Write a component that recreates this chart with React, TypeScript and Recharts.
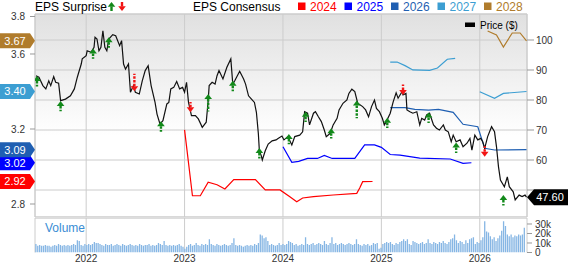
import React from 'react';
import { ComposedChart, BarChart, Bar, Line, Scatter, XAxis, YAxis, CartesianGrid, ReferenceArea, ReferenceDot } from 'recharts';

const FONT = 'Arial, "Liberation Sans", Helvetica, sans-serif';

// ---------- axes ----------
const xDomain: [number, number] = [2021.48, 2026.48];
const epsDomain: [number, number] = [2.7307, 3.8133];
const priceDomain: [number, number] = [41, 108.67];
const volumeDomain: [number, number] = [0, 36.3];
const yearTicks = [2022, 2023, 2024, 2025, 2026];
const epsTicks = [2.8, 3.2, 3.6, 3.8];
const priceTicks = [50, 60, 70, 80, 90, 100];
const volumeTicks = [0, 10, 20, 30];

// ---------- price ----------
const priceDates = [
  2021.49, 2021.52, 2021.56, 2021.59, 2021.62, 2021.64, 2021.67, 2021.69, 2021.72, 2021.74,
  2021.79, 2021.84, 2021.88, 2021.91, 2021.95, 2021.96, 2022.00, 2022.01, 2022.05, 2022.08,
  2022.09, 2022.11, 2022.13, 2022.15, 2022.17, 2022.19, 2022.21, 2022.23, 2022.27, 2022.30,
  2022.34, 2022.36, 2022.38, 2022.40, 2022.43, 2022.45, 2022.48, 2022.50, 2022.54, 2022.57,
  2022.60, 2022.63, 2022.66, 2022.70, 2022.72, 2022.75, 2022.78, 2022.82, 2022.84, 2022.86,
  2022.89, 2022.92, 2022.95, 2022.98, 2023.00, 2023.02, 2023.04, 2023.07, 2023.11, 2023.14,
  2023.18, 2023.22, 2023.24, 2023.25, 2023.28, 2023.31, 2023.33, 2023.35, 2023.39, 2023.43,
  2023.47, 2023.49, 2023.51, 2023.56, 2023.60, 2023.62, 2023.65, 2023.68, 2023.71, 2023.73,
  2023.75, 2023.76, 2023.78, 2023.79, 2023.82, 2023.85, 2023.89, 2023.93, 2023.95, 2023.99,
  2024.01, 2024.05, 2024.09, 2024.12, 2024.17, 2024.20, 2024.22, 2024.25, 2024.27, 2024.31,
  2024.33, 2024.36, 2024.39, 2024.42, 2024.44, 2024.48, 2024.51, 2024.55, 2024.57, 2024.61,
  2024.65, 2024.67, 2024.70, 2024.73, 2024.76, 2024.81, 2024.84, 2024.87, 2024.90, 2024.93,
  2024.95, 2024.98, 2025.01, 2025.03, 2025.05, 2025.09, 2025.12, 2025.15, 2025.17, 2025.21,
  2025.22, 2025.25, 2025.26, 2025.29, 2025.32, 2025.36, 2025.39, 2025.41, 2025.44, 2025.46,
  2025.49, 2025.53, 2025.56, 2025.59, 2025.63, 2025.65, 2025.68, 2025.71, 2025.73, 2025.76,
  2025.80, 2025.83, 2025.87, 2025.90, 2025.92, 2025.95, 2025.98, 2026.01, 2026.03, 2026.05,
  2026.08, 2026.12, 2026.15, 2026.17, 2026.19, 2026.21, 2026.25, 2026.28, 2026.30, 2026.34,
  2026.36, 2026.40, 2026.43, 2026.46, 2026.475,
];
const priceValues = [
  88.1, 87.6, 84.8, 83.7, 86.4, 84.8, 87.8, 85.9, 85.6, 79.8,
  80.3, 81.4, 83.7, 87.6, 92.0, 93.7, 94.8, 96.4, 95.9, 97.6,
  100.9, 100.3, 96.4, 97.6, 103.1, 97.6, 96.4, 100.3, 101.8, 101.4,
  98.1, 99.8, 92.0, 90.3, 92.0, 82.6, 84.8, 82.6, 82.0, 86.4,
  89.8, 91.4, 84.8, 79.2, 75.3, 72.0, 73.1, 78.7, 79.2, 83.7,
  84.2, 86.2, 83.7, 84.2, 82.6, 85.9, 79.2, 74.8, 74.8, 73.7,
  70.9, 72.6, 79.8, 84.8, 85.9, 85.3, 88.1, 89.8, 87.0, 90.9,
  93.7, 85.3, 86.4, 89.6, 87.0, 85.3, 81.4, 80.3, 79.2, 75.9,
  68.7, 63.1, 61.4, 60.0, 63.1, 65.3, 66.4, 66.7, 67.2, 68.0,
  66.7, 67.8, 65.0, 67.8, 68.3, 69.4, 76.1, 75.6, 71.7, 75.6,
  76.1, 74.4, 72.8, 70.0, 67.8, 68.9, 71.7, 73.9, 76.7, 78.9,
  80.0, 82.2, 83.6, 82.8, 78.9, 77.8, 76.7, 74.4, 77.8, 80.0,
  77.2, 76.1, 73.9, 71.7, 72.8, 75.6, 79.4, 82.4, 80.6, 82.8,
  81.7, 82.2, 76.7, 76.1, 75.6, 76.1, 71.7, 73.9, 73.3, 75.0,
  75.6, 71.7, 70.6, 70.0, 71.7, 70.0, 69.4, 66.1, 68.3, 66.1,
  66.7, 64.4, 65.6, 67.2, 63.3, 68.3, 66.7, 67.2, 66.1, 63.9,
  67.8, 71.1, 69.4, 64.4, 57.8, 53.3, 51.1, 54.4, 51.1, 49.4,
  46.7, 48.3, 47.8, 48.3, 47.6,
];

// ---------- EPS consensus ----------
const cons2024Dates = [2023.00, 2023.08, 2023.16, 2023.24, 2023.33, 2023.41, 2023.50, 2023.72, 2023.82, 2023.97, 2024.07, 2024.14, 2024.20, 2024.31, 2024.51, 2024.75, 2024.78, 2024.81, 2024.91];
const cons2024Values = [3.195, 2.844, 2.844, 2.916, 2.903, 2.880, 2.930, 2.930, 2.875, 2.875, 2.839, 2.812, 2.832, 2.839, 2.848, 2.857, 2.885, 2.919, 2.92];

const cons2025Dates = [2024.00, 2024.09, 2024.16, 2024.25, 2024.35, 2024.42, 2024.50, 2024.73, 2024.83, 2024.93, 2025.00, 2025.09, 2025.19, 2025.39, 2025.70, 2025.83, 2025.915];
const cons2025Values = [3.105, 3.022, 3.027, 3.043, 3.043, 3.059, 3.043, 3.043, 3.115, 3.115, 3.102, 3.064, 3.061, 3.045, 3.040, 3.017, 3.02];

const cons2026Dates = [2025.09, 2025.24, 2025.34, 2025.48, 2025.58, 2025.73, 2025.83, 2025.98, 2026.05, 2026.15, 2026.475];
const cons2026Values = [3.314, 3.314, 3.305, 3.301, 3.305, 3.289, 3.225, 3.212, 3.097, 3.088, 3.09];

const cons2027Dates = [2025.09, 2025.16, 2025.24, 2025.32, 2025.49, 2025.57, 2025.67, 2025.75, 2025.87, 2026.00, 2026.15, 2026.24, 2026.475];
const cons2027Values: (number | null)[] = [3.557, 3.557, 3.538, 3.515, 3.513, 3.525, 3.572, 3.577, null, 3.399, 3.364, 3.390, 3.40];

const cons2028Dates = [2026.08, 2026.17, 2026.24, 2026.33, 2026.41, 2026.475];
const cons2028Values = [3.723, 3.701, 3.637, 3.712, 3.712, 3.67];

const consensusYears = ['2024', '2025', '2026', '2027', '2028'];
const seriesColors: Record<string, string> = {
  '2024': '#ff0000',
  '2025': '#0000ff',
  '2026': '#1f5fb2',
  '2027': '#3c9ed2',
  '2028': '#b07c2c',
};

// ---------- EPS surprise ----------
const surpriseDates = [2021.50, 2021.74, 2022.07, 2022.23, 2022.49, 2022.76, 2023.06, 2023.24, 2023.49, 2023.76, 2024.06, 2024.23, 2024.49, 2024.75, 2025.06, 2025.22, 2025.48, 2025.76, 2026.05, 2026.24];
const surprisePrices = [88.0, 79.7, 97.2, 100.9, 82.9, 72.9, 75.9, 82.0, 86.4, 64.0, 68.7, 76.1, 70.6, 79.8, 74.1, 81.7, 75.8, 65.8, 61.1, 48.3];
const surprisePct = [3, 3, 3, 3, -12, 3, -3, 12, 3, 3, 3, 3, 3, 12, 3, -3, 3, 3, -3, 3];

// ---------- volume (thousands, weekly) ----------
const volumeStart = 2021.492;
const volumeValues = [
  9, 7, 8, 7, 7, 8, 7, 7, 6, 7, 8, 7, 9, 8, 7, 8, 7, 8, 7, 8, 9, 8, 13, 12, 8, 7, 9,
  8, 9, 8, 9, 11, 10, 10, 9, 8, 7, 9, 8, 8, 9, 7, 8, 9, 8, 7, 9, 8, 7, 8, 9, 8, 7,
  8, 7, 9, 8, 7, 8, 8, 9, 7, 8, 7, 8, 10, 9, 8, 12, 8, 7, 8, 7, 8, 7, 8, 9, 7, 6,
  4, 6, 8, 9, 7, 8, 10, 8, 7, 9, 8, 9, 8, 14, 9, 8, 7, 9, 8, 7, 8, 9, 8, 7, 8, 10,
  15, 8, 7, 8, 7, 6, 7, 8, 7, 8, 7, 9, 8, 10, 19, 18, 15, 16, 12, 8, 9, 8, 7, 8, 10, 8,
  9, 8, 9, 12, 11, 10, 8, 9, 7, 8, 9, 8, 16, 9, 8, 9, 10, 8, 9, 10, 9, 8, 12, 9, 8, 10,
  16, 9, 10, 8, 9, 10, 9, 8, 9, 10, 9, 8, 9, 14, 9, 8, 7, 9, 8, 9, 7, 8, 10, 9, 10, 4,
  5, 9, 10, 11, 10, 11, 9, 8, 10, 9, 11, 12, 14, 12, 14, 9, 8, 12, 11, 10, 9, 10, 11, 9, 10, 14,
  10, 9, 11, 10, 9, 11, 10, 12, 10, 9, 11, 14, 15, 19, 13, 10, 12, 11, 9, 13, 10, 14, 15, 16, 9, 11,
  10, 13, 16, 33, 22, 21, 17, 14, 16, 12, 15, 18, 23, 33, 28, 19, 17, 19, 16, 18, 17, 19, 18, 19, 26,
];

// ---------- derived tables ----------
const priceData = priceDates.map((t, i) => ({ t, p: priceValues[i] }));
const makeSeries = (dates: number[], values: (number | null)[]) => dates.map((t, i) => ({ t, v: values[i] }));
const consensusData: Record<string, { t: number; v: number | null }[]> = {
  '2024': makeSeries(cons2024Dates, cons2024Values),
  '2025': makeSeries(cons2025Dates, cons2025Values),
  '2026': makeSeries(cons2026Dates, cons2026Values),
  '2027': makeSeries(cons2027Dates, cons2027Values),
  '2028': makeSeries(cons2028Dates, cons2028Values),
};
const surpriseData = surpriseDates.map((t, i) => ({ t, p: surprisePrices[i], s: surprisePct[i] }));
const volumeData = volumeValues.map((vol, i) => ({ t: volumeStart + (i * 7) / 365.25, vol }));

const lastValue = (arr: { v: number | null }[]) => {
  for (let i = arr.length - 1; i >= 0; i--) if (arr[i].v != null) return arr[i].v as number;
  return 0;
};
const epsBadges = consensusYears.map((y) => ({ year: y, value: lastValue(consensusData[y]), color: seriesColors[y] }));
const lastPrice = priceValues[priceValues.length - 1];

const UP = '#12891a';
const DOWN = '#f21414';

const ArrowShape = (props: any) => {
  const { cx, cy, payload } = props;
  if (cx == null || cy == null || !payload) return <g />;
  const up = payload.s > 0;
  const color = up ? UP : DOWN;
  const head = 5;
  const hw = 3.8;
  const stem = 3 + Math.abs(payload.s) * 0.8;
  const dir = up ? 1 : -1;
  const base = cy + dir * head;
  return (
    <g>
      <line x1={cx} x2={cx} y1={base} y2={base + dir * stem} stroke={color} strokeWidth={2.4} strokeDasharray="2.5 1.3" />
      <path d={`M${cx},${cy} L${cx - hw},${base} L${cx + hw},${base} Z`} fill={color} />
    </g>
  );
};

const makeEpsBadge = (value: number, color: string) => (props: any) => {
  const { cy } = props;
  if (cy == null) return <g />;
  const y = cy;
  return (
    <g>
      <path d={`M0,${y - 7.5} H30 L35,${y} L30,${y + 7.5} H0 Z`} fill={color} />
      <text x={15} y={y} dy="0.36em" textAnchor="middle" fill="#ffffff" fontSize={11} fontFamily={FONT}>
        {value.toFixed(2)}
      </text>
    </g>
  );
};

const PriceBadge = (props: any) => {
  const { cy } = props;
  if (cy == null) return <g />;
  const y = cy;
  return (
    <g>
      <path d={`M527,${y} L534,${y - 8} H568 V${y + 8} H534 Z`} fill="#000000" />
      <text x={550} y={y} dy="0.36em" textAnchor="middle" fill="#ffffff" fontSize={11} fontFamily={FONT}>
        {lastPrice.toFixed(2)}
      </text>
    </g>
  );
};

const tickStyle = { fontSize: 10, fill: '#333333', fontFamily: FONT };

const LegendArrow = ({ x, up }: { x: number; up: boolean }) => {
  const color = up ? UP : DOWN;
  if (up) {
    return (
      <g>
        <line x1={x} x2={x} y1={6.5} y2={11} stroke={color} strokeWidth={2.4} />
        <path d={`M${x},2 L${x - 3.8},6.8 L${x + 3.8},6.8 Z`} fill={color} />
      </g>
    );
  }
  return (
    <g>
      <line x1={x} x2={x} y1={2} y2={6.5} stroke={color} strokeWidth={2.4} />
      <path d={`M${x},11 L${x - 3.8},6.2 L${x + 3.8},6.2 Z`} fill={color} />
    </g>
  );
};

export default function App() {
  return (
    <div style={{ position: 'absolute', left: 0, top: 0, width: 568, height: 264, background: '#ffffff', overflow: 'hidden', fontFamily: FONT }}>
      <div style={{ position: 'absolute', left: 0, top: 0 }}>
        <ComposedChart width={568} height={218} margin={{ top: 14, right: 0, bottom: 1, left: 0 }}>
          <defs>
            <linearGradient id="panelBg" x1="0" y1="0" x2="0" y2="1">
              <stop offset="0%" stopColor="#e0e0e0" />
              <stop offset="60%" stopColor="#ffffff" />
              <stop offset="100%" stopColor="#ffffff" />
            </linearGradient>
          </defs>
          <CartesianGrid yAxisId="price" stroke="#cccccc" fill="url(#panelBg)" fillOpacity={1} />
          <XAxis type="number" dataKey="t" domain={xDomain} allowDataOverflow ticks={yearTicks} hide />
          <YAxis yAxisId="eps" dataKey="v" orientation="left" width={35} type="number" domain={epsDomain} allowDataOverflow ticks={epsTicks} interval={0} tick={tickStyle} tickLine={{ stroke: '#999999' }} tickSize={5} tickMargin={5} axisLine={false} tickFormatter={(v: number) => v.toFixed(1)} />
          <YAxis yAxisId="price" dataKey="p" orientation="right" width={41} type="number" domain={priceDomain} allowDataOverflow ticks={priceTicks} interval={0} tick={tickStyle} tickLine={{ stroke: '#999999' }} tickSize={7} tickMargin={2} axisLine={false} tickFormatter={(v: number) => (Math.abs(v - lastPrice) < 5 ? '' : String(v))} />
          <ReferenceArea yAxisId="price" x1={xDomain[0]} x2={xDomain[1]} y1={priceDomain[0]} y2={priceDomain[1]} fill="none" stroke="#cccccc" ifOverflow="visible" />
          {consensusYears.map((y) => (
            <Line key={y} yAxisId="eps" data={consensusData[y]} dataKey="v" type="linear" stroke={seriesColors[y]} strokeWidth={1.2} dot={false} activeDot={false} connectNulls={false} isAnimationActive={false} />
          ))}
          <Line yAxisId="price" data={priceData} dataKey="p" type="linear" stroke="#111111" strokeWidth={1.2} dot={false} activeDot={false} isAnimationActive={false} />
          <Scatter yAxisId="price" data={surpriseData} dataKey="p" shape={ArrowShape} isAnimationActive={false} />
          {epsBadges.map((b) => (
            <ReferenceDot key={b.year} yAxisId="eps" x={xDomain[0]} y={b.value} r={0} ifOverflow="visible" shape={makeEpsBadge(b.value, b.color)} />
          ))}
          <ReferenceDot yAxisId="price" x={xDomain[1]} y={lastPrice} r={0} ifOverflow="visible" shape={PriceBadge} />
        </ComposedChart>
      </div>
      <div style={{ position: 'absolute', left: 35, top: 216.5, width: 492, height: 2, background: '#dddddd' }} />
      <div style={{ position: 'absolute', left: 0, top: 216 }}>
        <BarChart width={568} height={48} data={volumeData} margin={{ top: 2, right: 0, bottom: 0, left: 35 }} barCategoryGap={0}>
          <CartesianGrid horizontal={false} stroke="#cccccc" />
          <XAxis type="number" dataKey="t" domain={xDomain} allowDataOverflow ticks={yearTicks} interval={0} height={11.5} tick={tickStyle} tickLine={false} axisLine={false} tickSize={0} tickMargin={2} />
          <YAxis orientation="right" width={41} type="number" domain={volumeDomain} allowDataOverflow ticks={volumeTicks} interval={0} tick={tickStyle} tickLine={{ stroke: '#999999' }} tickSize={5} tickMargin={3} axisLine={false} tickFormatter={(v: number) => (v === 0 ? '0' : `${v}k`)} />
          <Bar dataKey="vol" fill="#86b6e4" barSize={1.3} isAnimationActive={false} />
        </BarChart>
      </div>
      <svg width={568} height={264} style={{ position: 'absolute', left: 0, top: 0, pointerEvents: 'none' }}>
        <text x={35} y={10.5} fontSize={12} fill="#000000" fontFamily={FONT}>EPS Surprise</text>
        <LegendArrow x={111.5} up={true} />
        <LegendArrow x={122} up={false} />
        <text x={193} y={10.5} fontSize={12} fill="#000000" fontFamily={FONT}>EPS Consensus</text>
        {consensusYears.map((y, i) => (
          <g key={y}>
            <rect x={298 + i * 46.5} y={2.5} width={7.5} height={7.5} fill={seriesColors[y]} />
            <text x={310 + i * 46.5} y={10.5} fontSize={12} fill={seriesColors[y]} fontFamily={FONT}>{y}</text>
          </g>
        ))}
        <rect x={465} y={22.5} width={10} height={4.5} fill="#000000" />
        <text x={480} y={29} fontSize={10} fill="#000000" fontFamily={FONT}>Price ($)</text>
        <text x={45} y={232} fontSize={12} fill="#3a8dd4" fontFamily={FONT}>Volume</text>
      </svg>
    </div>
  );
}
